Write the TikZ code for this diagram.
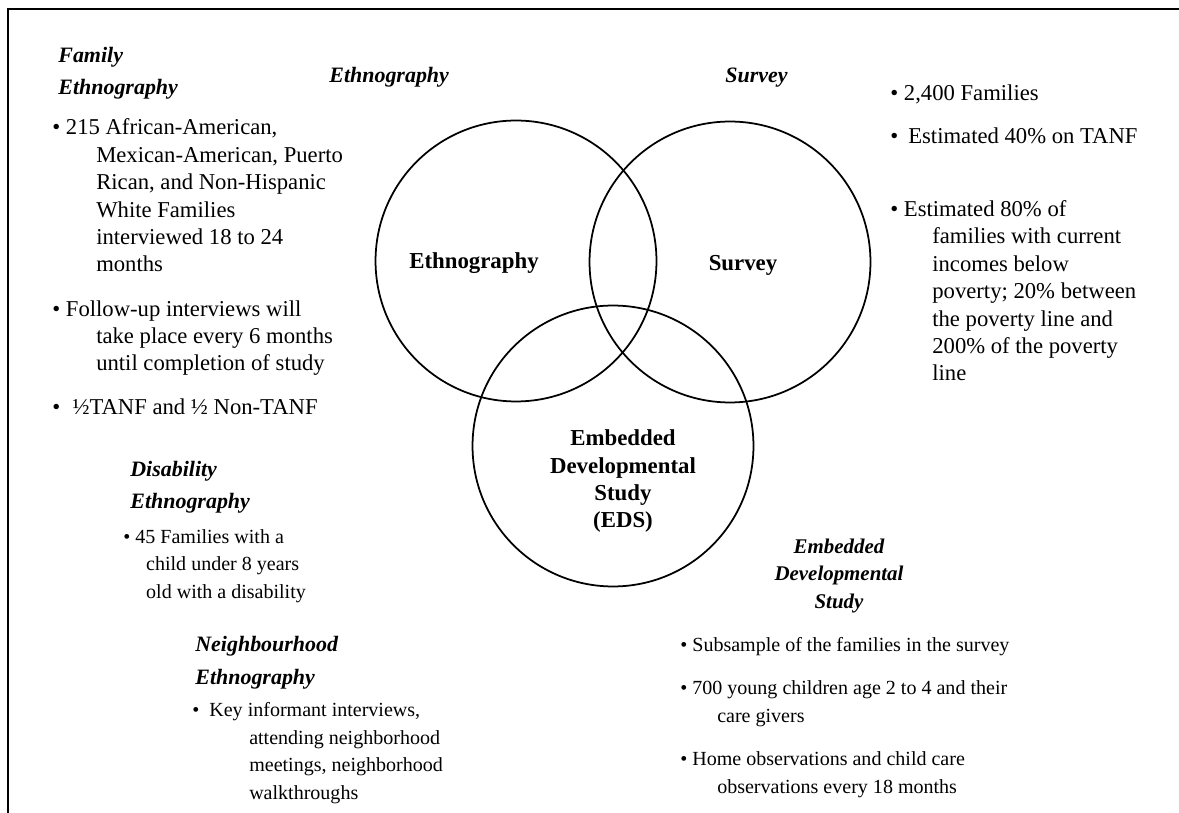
\documentclass[tikz,border=0pt]{standalone}
\usepackage{fontspec}
\setmainfont{Liberation Serif}

\begin{document}
\begin{tikzpicture}[
    x=0.02cm, y=-0.02cm,
    ring/.style={draw, circle, line width=1pt, minimum size=5.62cm, inner sep=0pt},
    hd/.style={font=\fontsize{12.5}{18.3}\selectfont\bfseries\itshape, align=left, anchor=base west, inner sep=0pt},
    lbl/.style={font=\fontsize{13}{15.6}\selectfont\bfseries, align=center, anchor=base, inner sep=0pt},
    big/.style={font=\fontsize{12.9}{15.6}\selectfont, align=left, anchor=base west, inner sep=0pt},
    sml/.style={font=\fontsize{11.4}{15.6}\selectfont, align=left, anchor=base west, inner sep=0pt}
]
\useasboundingbox (0,0) rectangle (1179,813);
\draw[line width=1.2pt] (1179,9) -- (8,9) -- (8,813);

% the three circles (text nodes sit on the baseline of their last line)
\node[ring] (eth) at (516,261) {};
\node[ring] (sur) at (730,262) {};
\node[ring] (eds) at (613,446) {};
\node[lbl] (ethL) at (474,269) {Ethnography};
\node[lbl] (surL) at (743,271) {Survey};
\node[lbl] (edsL) at (623,528) {Embedded\\Developmental\\Study\\(EDS)};

% headings
\node[hd] (ethT) at (329,83) {Ethnography};
\node[hd] (surT) at (725,83) {Survey};
\node[hd] (famH) at (58,95) {Family\\Ethnography};
\node[hd] (disH) at (130,509) {Disability\\Ethnography};
\node[hd] (neiH) at (195,684) {Neighbourhood\\Ethnography};
\node[hd, font=\fontsize{11.9}{15.6}\selectfont\bfseries\itshape, align=center, anchor=base] (edsH) at (839,608) {Embedded\\Developmental\\Study};

% family ethnography
\node[big] (fam1) at (52,272) {\textbullet\ 215 African-American,\\
  \hspace*{25pt}Mexican-American, Puerto\\
  \hspace*{25pt}Rican, and Non-Hispanic\\
  \hspace*{25pt}White Families\\
  \hspace*{25pt}interviewed 18 to 24\\
  \hspace*{25pt}months};
\node[big] (fam2) at (52,371) {\textbullet\ Follow-up interviews will\\
  \hspace*{25pt}take place every 6 months\\
  \hspace*{25pt}until completion of study};
\node[big] (fam3) at (52,415) {\textbullet\hspace{7pt}½TANF and ½ Non-TANF};

% disability and neighbourhood
\node[sml] (dis1) at (123,598) {\textbullet\ 45 Families with a\\
  \hspace*{13pt}child under 8 years\\
  \hspace*{13pt}old with a disability};
\node[sml] (nei1) at (192,799) {\textbullet\hspace{5.7pt}Key informant interviews,\\
  \hspace*{32.4pt}attending neighborhood\\
  \hspace*{32.4pt}meetings, neighborhood\\
  \hspace*{32.4pt}walkthroughs};

% survey
\node[big] (sur1) at (890,101) {\textbullet\ 2,400 Families};
\node[big] (sur2) at (890,144) {\textbullet\hspace{5.7pt}Estimated 40\% on TANF};
\node[big] (sur3) at (890,381) {\textbullet\ Estimated 80\% of\\
  \hspace*{23.9pt}families with current\\
  \hspace*{23.9pt}incomes below\\
  \hspace*{23.9pt}poverty; 20\% between\\
  \hspace*{23.9pt}the poverty line and\\
  \hspace*{23.9pt}200\% of the poverty\\
  \hspace*{23.9pt}line};

% embedded developmental study
\node[sml] (eds1) at (680,651) {\textbullet\ Subsample of the families in the survey};
\node[sml] (eds2) at (680,722) {\textbullet\ 700 young children age 2 to 4 and their\\
  \hspace*{21pt}care givers};
\node[sml] (eds3) at (680,793) {\textbullet\ Home observations and child care\\
  \hspace*{21pt}observations every 18 months};
\end{tikzpicture}
\end{document}
